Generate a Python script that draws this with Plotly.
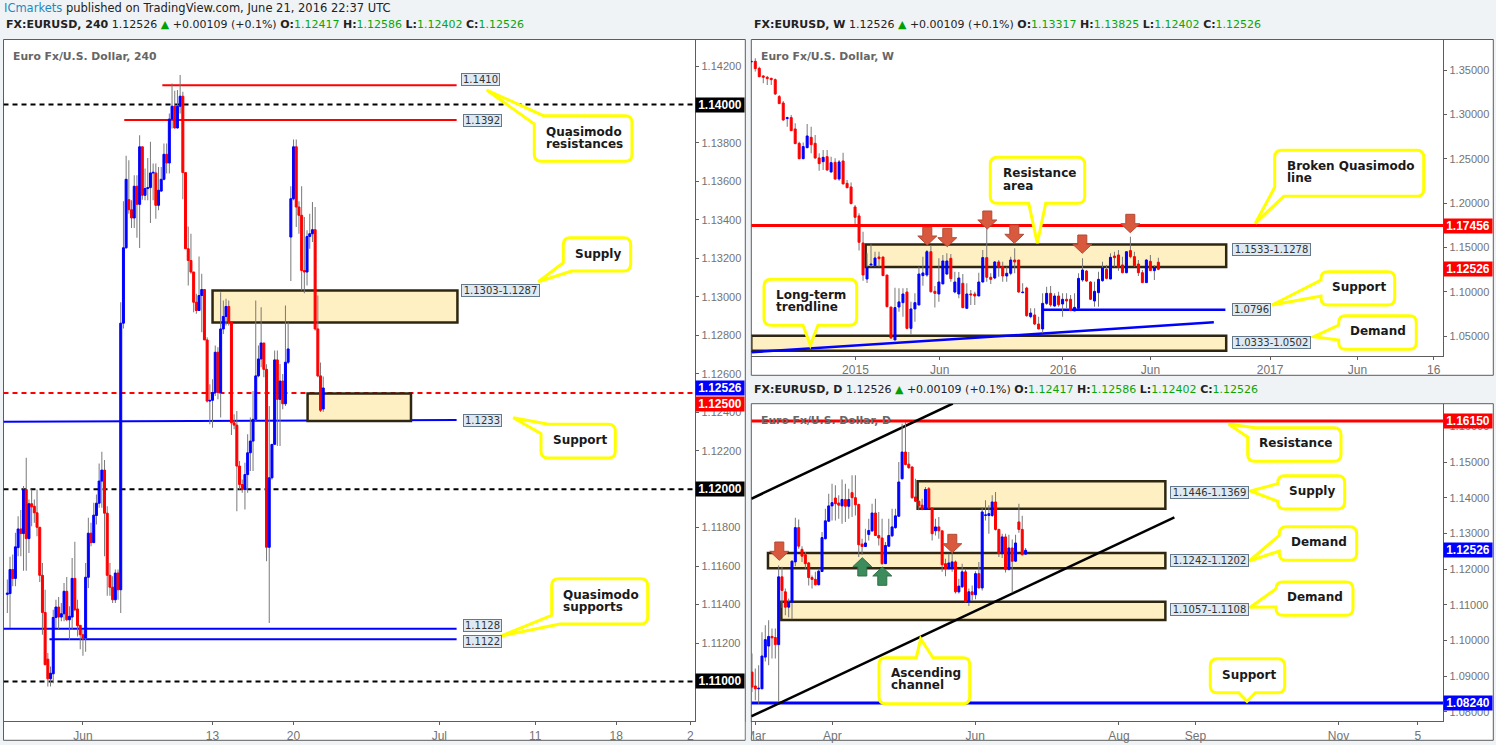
import plotly.graph_objects as go

W, H = 1496, 745

# 240 minute candles
h4_open = [1.11453,1.11457,1.11582,1.11536,1.11696,1.11793,1.11769,1.11998,1.11743,1.11924,1.11911,1.11877,1.11802,1.11552,1.11359,1.11116,1.11014,1.1104,1.11333,1.11387,
1.11335,1.11352,1.11469,1.11321,1.11335,1.11536,1.11377,1.11292,1.11243,1.11226,1.11542,1.11771,1.11722,1.11863,1.11927,1.12042,1.12099,1.11875,1.11552,1.1149,
1.11425,1.11564,1.11477,1.12863,1.13255,1.13505,1.13453,1.1341,1.13575,1.13481,1.1378,1.13528,1.13563,1.13568,1.13644,1.13644,1.13476,1.1355,1.13611,1.13741,
1.13696,1.13924,1.13991,1.13878,1.13991,1.14043,1.13646,1.1325,1.13189,1.13129,1.12972,1.12929,1.13007,1.13038,1.12776,1.12458,1.12462,1.12502,1.12712,1.12502,
1.12833,1.12898,1.1295,1.12868,1.12345,1.12333,1.1212,1.12024,1.11998,1.12076,1.12189,1.1225,1.12363,1.12589,1.12677,1.1276,1.12623,1.11698,1.12059,1.12233,
1.12672,1.12467,1.12562,1.12444,1.1266,1.13311,1.1351,1.1378,1.13467,1.13424,1.13137,1.13129,1.13314,1.13328,1.13349,1.12833,1.12589,1.12417]
h4_high = [1.1153,1.11648,1.1166,1.11773,1.11859,1.11891,1.12016,1.12163,1.11946,1.11998,1.11946,1.11998,1.11802,1.11616,1.11477,1.11148,1.11078,1.11373,1.11425,1.11439,
1.11408,1.11512,1.11543,1.11391,1.11642,1.11726,1.11425,1.11292,1.11269,1.11616,1.11851,1.11825,1.11929,1.11972,1.12134,1.12194,1.12151,1.11911,1.11616,1.11547,
1.11582,1.11582,1.12972,1.13497,1.13733,1.1371,1.13502,1.13632,1.13632,1.1384,1.1378,1.13667,1.13722,1.13806,1.13693,1.13693,1.13675,1.13675,1.13797,1.13797,
1.13953,1.14109,1.14071,1.14075,1.14153,1.14066,1.13646,1.13366,1.13328,1.1313,1.13016,1.1321,1.1312,1.13038,1.1279,1.12545,1.12571,1.12747,1.12738,1.13024,
1.12981,1.1299,1.12981,1.12868,1.12389,1.12406,1.12146,1.1205,1.12137,1.12285,1.12372,1.1251,1.12981,1.12747,1.12946,1.1276,1.1265,1.12432,1.12233,1.12721,
1.12721,1.12651,1.12599,1.12955,1.12868,1.13575,1.13818,1.13818,1.13497,1.13575,1.13415,1.13346,1.13432,1.13493,1.13467,1.13007,1.12658,1.12586]
h4_low = [1.11356,1.11278,1.11495,1.11495,1.11651,1.11651,1.11576,1.11576,1.11668,1.11807,1.11825,1.11755,1.11517,1.11243,1.11087,1.10974,1.10974,1.10991,1.11278,1.11273,
1.11313,1.11313,1.11313,1.11217,1.11269,1.11365,1.11234,1.11168,1.11134,1.11155,1.11486,1.11703,1.11722,1.11816,1.11903,1.11903,1.11651,1.11446,1.11446,1.11408,
1.11408,1.11425,1.11356,1.12835,1.1325,1.13432,1.13358,1.13358,1.13307,1.13254,1.13505,1.13502,1.13502,1.13384,1.13502,1.13406,1.1345,1.13545,1.13606,1.13641,
1.13641,1.13875,1.13875,1.13875,1.13953,1.13507,1.1325,1.13059,1.1312,1.1292,1.12912,1.12929,1.12816,1.12776,1.1245,1.12337,1.12319,1.12484,1.12467,1.12372,
1.12807,1.12851,1.12851,1.12281,1.12311,1.11885,1.11998,1.11981,1.11894,1.11981,1.12094,1.12094,1.12354,1.12582,1.12634,1.12582,1.11625,1.11304,1.1205,1.12233,
1.12224,1.12224,1.12415,1.12432,1.12651,1.13082,1.13502,1.13363,1.13328,1.13033,1.13019,1.13059,1.1325,1.13285,1.12825,1.12582,1.12401,1.12402]
h4_close = [1.1146,1.11582,1.11536,1.117,1.11793,1.11769,1.11998,1.11743,1.11924,1.11908,1.11877,1.11802,1.11552,1.11359,1.11087,1.11014,1.11043,1.11333,1.11387,1.11335,
1.11352,1.11469,1.11321,1.11339,1.11536,1.11373,1.1129,1.11243,1.11226,1.11542,1.11771,1.11722,1.11865,1.11927,1.12042,1.12099,1.11875,1.11552,1.1149,1.11425,
1.11564,1.11477,1.12863,1.13255,1.13611,1.13453,1.1341,1.13575,1.13481,1.1378,1.13528,1.13563,1.13568,1.13644,1.13648,1.13476,1.13554,1.13611,1.13741,1.13696,
1.13924,1.13991,1.13878,1.13991,1.14043,1.13646,1.1325,1.13189,1.13129,1.12972,1.12929,1.13007,1.13038,1.12776,1.12458,1.12462,1.12502,1.12712,1.12502,1.12833,
1.12898,1.1295,1.12868,1.12345,1.12333,1.1212,1.12024,1.11998,1.12076,1.12189,1.1225,1.12363,1.12589,1.12677,1.1276,1.12623,1.11698,1.12059,1.12233,1.12672,
1.12467,1.12562,1.12444,1.1266,1.12729,1.1351,1.1378,1.13467,1.13424,1.13137,1.13129,1.13314,1.13328,1.13349,1.12833,1.12589,1.1241,1.12526]

# weekly candles
w_open = [1.3591,1.3598,1.3519,1.3433,1.3418,1.3406,1.3391,1.32,1.3128,1.2952,1.2963,1.2835,1.2673,1.25,1.2624,1.2741,1.2673,1.2508,1.2466,1.2523,
1.235,1.2459,1.2271,1.2474,1.2222,1.2181,1.1955,1.1854,1.1549,1.1143,1.1301,1.1293,1.1391,1.1391,1.1188,1.0827,1.0455,1.0827,1.0876,1.0996,
1.0586,1.0805,1.085,1.1181,1.1188,1.1451,1.1004,1.0974,1.1087,1.1199,1.1376,1.0996,1.0974,1.1094,1.0812,1.0974,1.0974,1.0951,1.1109,1.1384,
1.1162,1.1154,1.1335,1.1282,1.1177,1.1207,1.1357,1.1357,1.0989,1.1041,1.0718,1.0737,1.0635,1.0579,1.0868,1.0981,1.0838,1.0951,1.0861,1.0914,
1.0914,1.0782,1.0812,1.1132,1.1233,1.1109,1.0895,1.0989,1.1124,1.1252,1.1143,1.1402,1.1414,1.1301,1.1214,1.1463,1.1395,1.1312,1.1214,1.1102,
1.1342,1.1237,1.13317]
w_high = [1.3613,1.3632,1.3538,1.344,1.3433,1.3414,1.3403,1.3218,1.3151,1.2974,1.2993,1.2899,1.2692,1.2681,1.2891,1.2861,1.2767,1.256,1.2598,1.2598,
1.2523,1.2504,1.2485,1.2568,1.226,1.223,1.1978,1.1884,1.1677,1.1432,1.1534,1.1451,1.1451,1.1395,1.1188,1.0827,1.1045,1.1038,1.1038,1.1041,
1.0887,1.0981,1.1282,1.1395,1.147,1.1526,1.1064,1.1376,1.1414,1.1432,1.1425,1.1226,1.1222,1.1199,1.1094,1.1019,1.1,1.1214,1.147,1.1895,
1.1207,1.1346,1.1357,1.1338,1.1282,1.1395,1.1489,1.1357,1.1094,1.1056,1.0812,1.0812,1.0718,1.0981,1.1056,1.1064,1.0981,1.1,1.0981,1.0981,
1.0962,1.0981,1.1207,1.1376,1.1244,1.1117,1.1113,1.1226,1.1338,1.1301,1.1432,1.1451,1.147,1.1395,1.1451,1.162,1.1451,1.1357,1.1244,1.1365,
1.1414,1.1301,1.13825]
w_low = [1.3576,1.3482,1.3418,1.335,1.3331,1.3331,1.3218,1.3117,1.2929,1.2861,1.2812,1.2662,1.2493,1.2493,1.2617,1.256,1.25,1.2365,1.2372,1.2365,
1.2342,1.226,1.2252,1.2211,1.2166,1.1985,1.1763,1.1463,1.1124,1.1098,1.1282,1.1282,1.1282,1.1177,1.0823,1.047,1.0455,1.0774,1.0718,1.0575,
1.0519,1.0662,1.0846,1.1068,1.1169,1.0989,1.082,1.0887,1.1087,1.1188,1.1113,1.0981,1.0925,1.0812,1.0812,1.085,1.085,1.0951,1.1102,1.1113,
1.1087,1.1139,1.1169,1.1113,1.1113,1.1184,1.1207,1.0989,1.0981,1.0718,1.0699,1.0624,1.0575,1.053,1.085,1.0831,1.0831,1.0831,1.0718,1.0812,
1.0782,1.0782,1.0808,1.1113,1.1113,1.0906,1.0831,1.0831,1.1113,1.1139,1.1139,1.1282,1.1237,1.1207,1.1207,1.1376,1.1282,1.1177,1.1102,1.1102,
1.1237,1.1132,1.12402]
w_close = [1.3598,1.3516,1.3425,1.3418,1.3403,1.3391,1.323,1.3121,1.2936,1.2963,1.2816,1.267,1.25,1.2636,1.2756,1.2658,1.2508,1.2444,1.2515,1.2372,
1.2455,1.2271,1.2463,1.2215,1.2173,1.1993,1.1839,1.1557,1.1188,1.1275,1.1312,1.138,1.1372,1.1181,1.0831,1.0477,1.082,1.0884,1.0974,1.0586,
1.0805,1.0876,1.1199,1.1211,1.1451,1.1,1.0981,1.1109,1.1346,1.1346,1.1147,1.1109,1.1154,1.082,1.0974,1.0962,1.0951,1.1109,1.1384,1.1162,
1.1139,1.1335,1.1275,1.1177,1.1207,1.1357,1.1335,1.0996,1.0996,1.0729,1.0759,1.0635,1.0579,1.0868,1.0981,1.085,1.0951,1.0853,1.0914,1.0895,
1.0786,1.0823,1.115,1.1244,1.112,1.0914,1.1004,1.1139,1.1267,1.115,1.1387,1.1384,1.1275,1.1214,1.1451,1.1395,1.1293,1.1214,1.1102,1.1357,
1.1237,1.1271,1.12526]

# daily candles
d_open = [1.0911,1.0872,1.0864,1.0864,1.0953,1.0984,1.1011,1.1008,1.0988,1.1178,1.1136,1.1093,1.1107,1.122,1.1316,1.1255,1.124,1.1217,1.1176,1.1171,
1.1156,1.1193,1.1285,1.1334,1.1377,1.1399,1.1385,1.1377,1.1395,1.1376,1.1414,1.14,1.1381,1.127,1.1263,1.1297,1.1307,1.1357,1.1294,1.1287,
1.1215,1.1264,1.1293,1.1316,1.1348,1.1453,1.1528,1.1494,1.1486,1.1402,1.139,1.1379,1.1367,1.1425,1.1371,1.1307,1.1318,1.1307,1.1215,1.1201,
1.1201,1.122,1.1136,1.115,1.1192,1.1107,1.1136,1.1128,1.1187,1.1147,1.135,1.135,1.135,1.1388,1.1311,1.1243,1.129,1.1199,1.1259,1.1222,
1.1332,1.1311,1.12417]
d_high = [1.0963,1.0921,1.093,1.1023,1.1042,1.1056,1.1033,1.1033,1.121,1.1206,1.1145,1.1117,1.1224,1.1344,1.1339,1.1264,1.1248,1.122,1.1182,1.1192,
1.1201,1.1304,1.1369,1.1411,1.1439,1.1435,1.1407,1.1451,1.1439,1.1425,1.1463,1.1463,1.1383,1.1285,1.1313,1.1341,1.1383,1.1397,1.136,1.1341,
1.1276,1.1341,1.1369,1.1369,1.15,1.1607,1.1612,1.1528,1.1488,1.1453,1.1393,1.1397,1.143,1.143,1.1371,1.1341,1.1346,1.1307,1.1229,1.1243,
1.1248,1.1224,1.1173,1.1215,1.1201,1.1145,1.1154,1.1194,1.122,1.1374,1.1393,1.1379,1.1407,1.1416,1.1313,1.1299,1.1299,1.1296,1.1283,1.1296,
1.1383,1.1349,1.12586]
d_low = [1.0855,1.0832,1.0822,1.0864,1.0941,1.093,1.0949,1.0949,1.0827,1.1091,1.107,1.1065,1.1059,1.1208,1.1257,1.122,1.1201,1.1154,1.1145,1.1154,
1.1154,1.1193,1.1283,1.1332,1.1336,1.1336,1.1341,1.1327,1.1332,1.1341,1.1346,1.135,1.1234,1.124,1.1262,1.128,1.1304,1.1294,1.1266,1.1212,
1.1215,1.1262,1.129,1.1313,1.1346,1.1451,1.1491,1.1481,1.1397,1.1388,1.1365,1.1365,1.1366,1.1369,1.128,1.1294,1.1285,1.1192,1.118,1.1199,
1.1192,1.1131,1.1131,1.1147,1.1107,1.1096,1.1112,1.1115,1.1145,1.114,1.1336,1.1299,1.1346,1.1308,1.1234,1.1231,1.119,1.1196,1.1134,1.122,
1.1302,1.1238,1.12402]
d_close = [1.0869,1.0864,1.0866,1.0956,1.1002,1.1011,1.1007,1.0988,1.1178,1.114,1.1093,1.1107,1.1222,1.1316,1.1264,1.1236,1.1215,1.1176,1.1171,1.1156,
1.1194,1.1288,1.1335,1.1377,1.1386,1.1383,1.1379,1.1395,1.1376,1.1395,1.14,1.138,1.1268,1.1263,1.1273,1.1308,1.1357,1.1294,1.1287,1.1215,
1.1266,1.1294,1.1318,1.1349,1.1444,1.1528,1.1493,1.1484,1.14,1.139,1.1377,1.1367,1.1423,1.1371,1.1299,1.1318,1.1307,1.1212,1.1201,1.1217,
1.122,1.1136,1.1152,1.1192,1.1109,1.1136,1.1128,1.1187,1.1147,1.136,1.1352,1.1355,1.1388,1.1311,1.1243,1.129,1.1199,1.1259,1.1222,1.1273,
1.1311,1.124,1.12526]

h4_ticks = [28, 76, 106, 160, 195.5, 225.5, 253]
h4_ticktext = ["Jun", "13", "20", "Jul", "11", "18", "2"]
w_ticks = [26.1, 47.2, 78.1, 100, 130, 151.9, 171]
w_ticktext = ["2015", "Jun", "2016", "Jun", "2017", "Jun", "16"]
d_ticks = [1, 24.1, 66.9, 110, 132.9, 175.8, 199.6]
d_ticktext = ["Mar", "Apr", "Jun", "Aug", "Sep", "Nov", "5"]

h4_yticks = [1.142, 1.138, 1.136, 1.134, 1.132, 1.13, 1.128, 1.126, 1.124, 1.122, 1.118, 1.116, 1.114, 1.112]
w_yticks = [1.35, 1.3, 1.25, 1.2, 1.15, 1.1, 1.05]
d_yticks = [1.16, 1.15, 1.14, 1.13, 1.12, 1.11, 1.1, 1.09, 1.08]

BG = "#f0f3f6"
BLUE = "#0000ff"
RED = "#ff0000"
WICK = "rgba(118,118,118,0.99)"  # alpha below 1 stops plotly widening thin bars to 2px
BORDER = "#5d5d5d"
AXTXT = "#737373"
UI = "DejaVu Sans"


def px(x):
    return x / W


def py(y):
    return 1 - y / H


fig = go.Figure()


def candles(op, hi, lo, cl, xa, ya, width, wick_width):
    xs = list(range(len(op)))
    # wicks as thin bars, plotly always puts scatter lines above bars
    fig.add_trace(go.Bar(x=xs, y=[h - l for h, l in zip(hi, lo)], base=lo, width=wick_width,
                         marker=dict(color=WICK, line=dict(width=0)), xaxis=xa, yaxis=ya, hoverinfo="skip"))
    colors = [BLUE if c >= o else RED for o, c in zip(op, cl)]
    fig.add_trace(go.Bar(x=xs, y=[abs(c - o) for o, c in zip(op, cl)], base=[min(o, c) for o, c in zip(op, cl)],
                         width=width, marker=dict(color=colors, line=dict(color=colors, width=1)),
                         xaxis=xa, yaxis=ya, hoverinfo="skip"))


candles(h4_open, h4_high, h4_low, h4_close, "x", "y", 0.74, 0.37)
candles(w_open, w_high, w_low, w_close, "x2", "y2", 0.5, 0.25)
candles(d_open, d_high, d_low, d_close, "x3", "y3", 0.6, 0.3)

shapes = []
annots = []


def line(xa, ya, x0, y0, x1, y1, color, width=2, dash="solid"):
    shapes.append(dict(type="line", xref=xa, yref=ya, x0=x0, y0=y0, x1=x1, y1=y1, layer="below",
                       line=dict(color=color, width=width, dash=dash)))


def zone(xa, ya, x0, x1, y0, y1):
    shapes.append(dict(type="rect", xref=xa, yref=ya, x0=x0, x1=x1, y0=y0, y1=y1, layer="below",
                       fillcolor="#fff0c4", line=dict(color="#2e2610", width=2.5)))


def label(cx, cy, w, text):
    annots.append(dict(xref="paper", yref="paper", x=px(cx), y=py(cy), text=text, showarrow=False,
                       xanchor="center", yanchor="middle", width=w, height=11, bgcolor="#dfe9f1",
                       bordercolor="#64798c", borderwidth=1, borderpad=0,
                       font=dict(family=UI, size=10, color="#333333"), align="center", valign="middle"))


def price_tag(right, ya, price, color, yshift=0):
    annots.append(dict(xref="paper", yref=ya, x=px(right), y=price, text="<b>%.5f</b>" % price, showarrow=False,
                       xanchor="right", yanchor="middle", yshift=yshift, width=48, height=14, bgcolor=color, borderpad=0,
                       font=dict(family="Liberation Sans", size=12, color="white"), align="center", valign="middle"))


def text(x, y, s, size=12, color="#1a1a1a"):
    annots.append(dict(xref="paper", yref="paper", x=px(x - 1.5), y=py(y), text=s, showarrow=False,
                       xanchor="left", yanchor="middle", align="left",
                       font=dict(family=UI, size=size, color=color)))


def rounded(verts, r=7):
    # verts: (x, y, round_this_corner)
    n = len(verts)
    d = ""
    for i, (x, y, rnd) in enumerate(verts):
        if rnd:
            ax, ay, _ = verts[i - 1]
            bx, by, _ = verts[(i + 1) % n]
            la = ((ax - x) ** 2 + (ay - y) ** 2) ** 0.5
            lb = ((bx - x) ** 2 + (by - y) ** 2) ** 0.5
            p1 = (x + r * (ax - x) / la, y + r * (ay - y) / la)
            p2 = (x + r * (bx - x) / lb, y + r * (by - y) / lb)
            d += ("M" if i == 0 else "L") + "%.5f %.5f " % (px(p1[0]), py(p1[1]))
            d += "Q%.5f %.5f %.5f %.5f " % (px(x), py(y), px(p2[0]), py(p2[1]))
        else:
            d += ("M" if i == 0 else "L") + "%.5f %.5f " % (px(x), py(y))
    return d + "Z"


def callout(l, t, r, b, after, tail, drop=None):
    corners = [(l, t), (r, t), (r, b), (l, b)]
    verts = []
    for i, c in enumerate(corners):
        if i != drop:
            verts.append((c[0], c[1], True))
        if i == after:
            verts += [(p[0], p[1], False) for p in tail]
    shapes.append(dict(type="path", path=rounded(verts), xref="paper", yref="paper", layer="above",
                       fillcolor="white", line=dict(color="#ffff00", width=3)))


def arrow(cx, top, bottom, up=False):
    fill, edge = ("#3c8c5c", "#2f6f49") if up else ("#d9593f", "#b34a34")
    hw, sw = 9.5, 4.5
    if up:
        neck = top + 9
        pts = [(cx, top), (cx + hw, neck), (cx + sw, neck), (cx + sw, bottom), (cx - sw, bottom), (cx - sw, neck), (cx - hw, neck)]
    else:
        neck = bottom - 9
        pts = [(cx, bottom), (cx - hw, neck), (cx - sw, neck), (cx - sw, top), (cx + sw, top), (cx + sw, neck), (cx + hw, neck)]
    shapes.append(dict(type="path", path=rounded([(p[0], p[1], False) for p in pts]), xref="paper", yref="paper",
                       layer="above", fillcolor=fill, line=dict(color=edge, width=1)))


# panel backgrounds and frames
for l, t, r, b in [(3.5, 39.5, 745.3, 740.3), (751.3, 39.5, 1493.3, 375.3), (751.3, 403.7, 1493.3, 740.3)]:
    shapes.append(dict(type="rect", xref="paper", yref="paper", x0=px(l), x1=px(r), y0=py(t), y1=py(b),
                       layer="below", fillcolor="white", line=dict(color=BORDER, width=1)))

# 240 panel drawings
H4_L, H4_R = -1.42, 254.8
line("x", "y", H4_L, 1.14, H4_R, 1.14, "black", 2, "5px,4px")
line("x", "y", H4_L, 1.12, H4_R, 1.12, "black", 2, "5px,4px")
line("x", "y", H4_L, 1.11, H4_R, 1.11, "black", 2, "5px,4px")
line("x", "y", H4_L, 1.125, H4_R, 1.125, RED, 2, "5px,4px")
line("x", "y", 57.4, 1.141, 166.4, 1.141, RED)
line("x", "y", 43.3, 1.1392, 166.4, 1.1392, RED)
line("x", "y", H4_L, 1.1235, 166.4, 1.1236, BLUE)
line("x", "y", H4_L, 1.11274, 166.4, 1.11274, BLUE)
line("x", "y", 15.6, 1.11219, 166.4, 1.11219, BLUE)
zone("x", "y", 76, 166.7, 1.12866, 1.13033)
zone("x", "y", 111.2, 149.5, 1.12354, 1.12498)

# weekly panel drawings
line("x2", "y2", 0, 1.17456, 173.4, 1.17456, RED, 3)
zone("x2", "y2", 28.65, 119, 1.1278, 1.1533)
zone("x2", "y2", 0, 119, 1.0333, 1.0502)
line("x2", "y2", 73.1, 1.0796, 118.8, 1.0796, BLUE, 2.5)
line("x2", "y2", 0, 1.0316, 115.9, 1.0654, BLUE, 2.5)

# daily panel drawings
line("x3", "y3", -0.2, 1.1615, 207.2, 1.1615, RED, 3)
line("x3", "y3", -0.2, 1.0824, 207.2, 1.0824, BLUE, 3)
zone("x3", "y3", 49.65, 123.9, 1.1369, 1.1446)
zone("x3", "y3", 4.8, 123.9, 1.1202, 1.1245)
zone("x3", "y3", 8.8, 123.9, 1.1057, 1.1108)
line("x3", "y3", -0.2, 1.1397, 60.2, 1.1664, "black", 2.5)
line("x3", "y3", -0.2, 1.0787, 126.6, 1.1345, "black", 2.5)

# arrows
arrow(927.3, 227.3, 245)
arrow(947.3, 228.3, 246.7)
arrow(987.3, 211, 229)
arrow(1014.3, 225, 243.3)
arrow(1082.3, 235, 253.3)
arrow(1130.3, 214.3, 232.7)
arrow(779.3, 542, 560.3)
arrow(952.3, 534.3, 552.7)
arrow(862.3, 557.7, 576, up=True)
arrow(882.3, 567, 585.3, up=True)

# callouts
callout(534.3, 115.7, 632, 161.3, 3, [(534.3, 124), (486.7, 90), (543.3, 115.7)], drop=0)
callout(563.3, 237.7, 630.7, 271, 2, [(571.7, 271), (538.3, 281.7), (563.3, 262.7)], drop=3)
callout(541, 424.3, 615.3, 458, 3, [(541, 433.7), (513.3, 417.7), (548.3, 424.3)], drop=0)
callout(551.7, 578.7, 647.7, 624, 2, [(560, 624), (501, 636), (551.7, 615.3)], drop=3)
callout(990.3, 157.3, 1084.7, 203.3, 2, [(1045.7, 203.3), (1037.3, 243.3), (1028.7, 203.3)])
callout(764, 279.3, 856.7, 325.3, 2, [(818, 325.3), (810.3, 345), (803, 325.3)])
callout(1274.7, 150.3, 1423.7, 196.3, 2, [(1283.7, 196.3), (1255.3, 223.3), (1274.7, 187.3)], drop=3)
callout(1321, 271.7, 1394.7, 305, 3, [(1321, 296), (1272, 305), (1321, 280)])
callout(1338.7, 315.7, 1416.3, 349.3, 3, [(1338.7, 340), (1313.7, 336.7), (1338.7, 325)])
callout(879, 657.7, 969.7, 703.7, 0, [(916.3, 657.7), (920.7, 638.7), (933, 657.7)])
callout(1247.7, 427.7, 1341, 461.3, 3, [(1247.7, 437), (1228.7, 424.3), (1255.3, 427.7)], drop=0)
callout(1277.7, 475.7, 1344.7, 509, 3, [(1277.7, 501.3), (1250.3, 491), (1277.7, 483.7)])
callout(1279.3, 526.7, 1356.7, 560.3, 3, [(1279.3, 551), (1249.3, 561), (1279.3, 535.3)])
callout(1276, 582, 1353, 615.3, 3, [(1276, 607), (1250.3, 607.3), (1276, 588.7)])
callout(1210.3, 658.7, 1284.7, 692.7, 2, [(1255.3, 692.7), (1247, 701.3), (1238.7, 692.7)])

# callout captions, line by line because the spacing is tighter than plotly's <br>
captions = [
    ("Quasimodo", 545, 132), ("resistances", 545, 143.7), ("Supply", 574.3, 253.7), ("Support", 552.3, 440.3),
    ("Quasimodo", 562.3, 594.7), ("supports", 562.3, 606.7),
    ("Resistance", 1002.3, 173.3), ("area", 1002.3, 185.7), ("Long-term", 775.3, 295.3), ("trendline", 775.3, 307),
    ("Broken Quasimodo", 1286.7, 166.3), ("line", 1286.7, 178.3), ("Support", 1331.3, 287.3), ("Demand", 1349.7, 331.3),
    ("Ascending", 890.7, 673.3), ("channel", 890.7, 685.3), ("Resistance", 1258.7, 443.3), ("Supply", 1288.3, 491.3),
    ("Demand", 1290.7, 542.3), ("Demand", 1286.7, 597.3), ("Support", 1221.3, 674.7),
]
for s, x, y in captions:
    text(x, y, "<b>%s</b>" % s)

# level boxes
label(480, 79.8, 37, "1.1410")
label(482, 120.2, 37, "1.1392")
label(500, 290, 77, "1.1303-1.1287")
label(482, 420.3, 37, "1.1233")
label(482, 625.3, 37, "1.1128")
label(482, 641.2, 37, "1.1122")
label(1271, 250, 77, "1.1533-1.1278")
label(1251, 309.7, 37, "1.0796")
label(1271, 342.2, 77, "1.0333-1.0502")
label(1209, 492.2, 77, "1.1446-1.1369")
label(1209, 560.3, 77, "1.1242-1.1202")
label(1209, 609.2, 77, "1.1057-1.1108")

# price tags on the axes
price_tag(745.3, "y", 1.14, "black")
price_tag(745.3, "y", 1.12526, BLUE)
price_tag(745.3, "y", 1.125, RED, yshift=-11)
price_tag(745.3, "y", 1.12, "black")
price_tag(745.3, "y", 1.11, "black")
price_tag(1493.3, "y2", 1.17456, RED)
price_tag(1493.3, "y2", 1.12526, RED)
price_tag(1493.3, "y3", 1.1615, RED)
price_tag(1493.3, "y3", 1.12526, BLUE)
price_tag(1493.3, "y3", 1.0824, BLUE)

# chart names inside the panels
text(12.3, 56.7, "<b>Euro Fx/U.S. Dollar, 240</b>", 10.8, "#666666")
text(760.3, 56.7, "<b>Euro Fx/U.S. Dollar, W</b>", 10.8, "#666666")
text(760.3, 420.7, "<b>Euro Fx/U.S. Dollar, D</b>", 10.8, "#666666")

GREEN = "#0aa50a"


def header(x, y, name, op, hi):
    s = ("<b>FX:EURUSD, %s</b> 1.12526 <span style='color:#00a000'>▲</span> +0.00109 (+0.1%%) "
         "<b>O:</b><span style='color:%s'>%s</span> <b>H:</b><span style='color:%s'>%s</span> "
         "<b>L:</b><span style='color:%s'>1.12402</span> <b>C:</b><span style='color:%s'>1.12526</span>"
         % (name, GREEN, op, GREEN, hi, GREEN, GREEN))
    text(x, y, s, 11, "#222222")


text(3, 7.5, "<span style='color:#1b8ac2'>ICmarkets</span> published on TradingView.com, June 21, 2016 22:37 UTC", 11.5, "#222222")
header(5.5, 25, "240", "1.12417", "1.12586")
header(753.5, 25, "W", "1.13317", "1.13825")
header(753.5, 389, "D", "1.12417", "1.12586")

# trims the clipped part of the first daily label
shapes.append(dict(type="rect", xref="paper", yref="paper", x0=px(745.8), x1=px(750.8), y0=py(722), y1=py(741),
                   layer="above", fillcolor=BG, line=dict(width=0)))


def yaxis(domain, rng, vals, anchor):
    return dict(domain=[py(domain[1]), py(domain[0])], range=rng, tickvals=vals, tickformat=".5f", side="right",
                anchor=anchor, showgrid=False, zeroline=False, showline=True, linecolor=BORDER, linewidth=1,
                ticks="outside", ticklen=3, tickcolor=BORDER,
                tickfont=dict(family="Liberation Sans", size=11, color=AXTXT))


def xaxis(domain, rng, vals, labels, anchor):
    return dict(domain=[px(domain[0]), px(domain[1])], range=rng, tickvals=vals, ticktext=labels, anchor=anchor,
                showgrid=False, zeroline=False, showline=True, linecolor=BORDER, linewidth=1,
                ticks="outside", ticklen=3, tickcolor=BORDER,
                tickfont=dict(family="Liberation Sans", size=12, color=AXTXT))


fig.update_layout(
    width=W, height=H, autosize=False, margin=dict(l=0, r=0, t=0, b=0, pad=0, autoexpand=False),
    paper_bgcolor=BG, plot_bgcolor="white", showlegend=False, barmode="overlay", hovermode=False,
    xaxis=xaxis((3.5, 695.3), [H4_L, H4_R], h4_ticks, h4_ticktext, "y"),
    yaxis=yaxis((39.5, 721.3), [1.10793, 1.14338], h4_yticks, "x"),
    xaxis2=xaxis((751.3, 1443.3), [0, 173.4], w_ticks, w_ticktext, "y2"),
    yaxis2=yaxis((39.5, 356), [1.02744, 1.3844], w_yticks, "x2"),
    xaxis3=xaxis((751.3, 1443.3), [-0.2, 207.2], d_ticks, d_ticktext, "y3"),
    yaxis3=yaxis((403.7, 721.3), [1.0773, 1.16635], d_yticks, "x3"),
    shapes=shapes, annotations=annots,
)

fig.write_html("out.html", config={"displayModeBar": False},
               post_script="document.body.style.margin='0';document.body.style.overflow='hidden';")
